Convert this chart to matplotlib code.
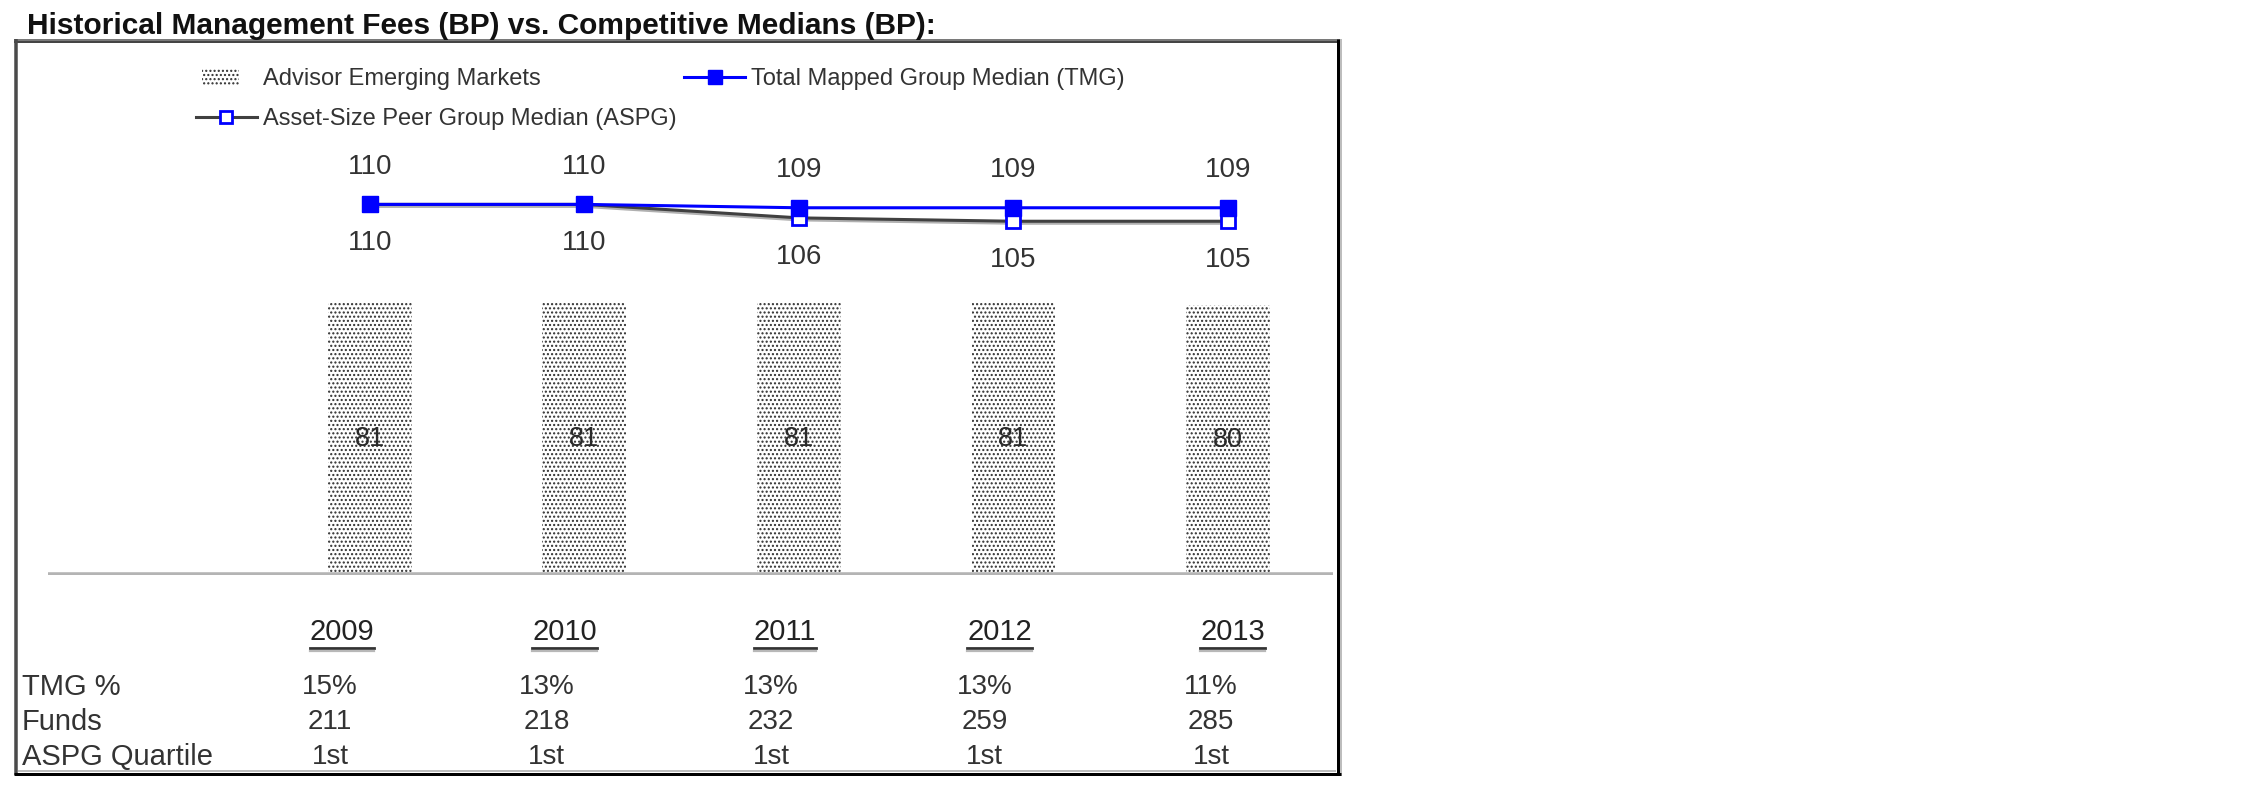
import numpy as np
import matplotlib
matplotlib.use('Agg')
import matplotlib.pyplot as plt
from matplotlib.lines import Line2D
from matplotlib.patches import Patch, Rectangle
from matplotlib.legend_handler import HandlerPatch
from matplotlib.transforms import blended_transform_factory, ScaledTranslation

years = ['2009', '2010', '2011', '2012', '2013']
advisor_fees = [81, 81, 81, 81, 80]
tmg_median = [110, 110, 109, 109, 109]
aspg_median = [110, 110, 106, 105, 105]
row_labels = ['TMG %', 'Funds', 'ASPG Quartile']
tmg_pct = ['15%', '13%', '13%', '13%', '11%']
funds = ['211', '218', '232', '259', '285']
aspg_quartile = ['1st', '1st', '1st', '1st', '1st']

W, H = 2250, 796
plt.rcParams['font.family'] = ['Liberation Sans', 'DejaVu Sans']
plt.rcParams['hatch.linewidth'] = 1.0

text_col = '#333333'
dots = '....'

def fx(px):
    return px / W

def fy(py):
    return 1 - py / H

fig = plt.figure(figsize=(W / 100, H / 100), dpi=100)
fig.patch.set_facecolor('white')

# plot area: baseline at y=575px, top at the frame
ax = fig.add_axes([fx(48), fy(575), fx(1333) - fx(48), fy(41) - fy(575)])
ax.axis('off')
x = np.arange(len(years))
ax.set_xlim(-1.5, 4.49)
ax.set_ylim(0, 158.5)

ax.bar(x, advisor_fees, width=0.39, color='white', edgecolor='#2e2e2e',
       linewidth=0, hatch=dots, zorder=1)
ax.axhline(0, color='#b4b4b4', lw=4, zorder=2)

for xi, v in zip(x, advisor_fees):
    ax.text(xi, v / 2, str(v), ha='center', va='center', fontsize=19.5, color='#2a2a2a', zorder=5)

shadow = ax.transData + ScaledTranslation(0, -2 / 100, fig.dpi_scale_trans)
ax.plot(x, aspg_median, color='#b0b0b0', lw=2.2, transform=shadow, zorder=2.5)
ax.plot(x, aspg_median, color='#404040', lw=2.2, marker='s', ms=10, mfc='white',
        mec='#0000ff', mew=2, zorder=3)
ax.plot(x, tmg_median, color='#0000ff', lw=2.2, marker='s', ms=12, mfc='#0000ff',
        mec='#0000ff', zorder=4)

for xi, v in zip(x, tmg_median):
    ax.annotate(str(v), (xi, v), xytext=(0, 27), textcoords='offset points',
                ha='center', va='center', fontsize=20, color=text_col)
for xi, v in zip(x, aspg_median):
    ax.annotate(str(v), (xi, v), xytext=(0, -28), textcoords='offset points',
                ha='center', va='center', fontsize=20, color=text_col)

# years (underlined) and table under the plot
tr = blended_transform_factory(ax.transData, fig.transFigure)
year_dx = [-0.13, -0.093, -0.065, -0.065, 0.023]
year_texts = []
for xi, yr, d in zip(x, years, year_dx):
    t = ax.text(xi + d, fy(632), yr, transform=tr, ha='center', va='center',
                fontsize=21, color='#222222')
    year_texts.append(t)

table_dx = [-0.186, -0.177, -0.13, -0.135, -0.079]
row_y = [687, 722, 757]
for row, yy in zip([tmg_pct, funds, aspg_quartile], row_y):
    for xi, val, d in zip(x, row, table_dx):
        ax.text(xi + d, fy(yy), val, transform=tr, ha='center', va='center',
                fontsize=20, color=text_col)
for lab, yy in zip(row_labels, row_y):
    fig.text(fx(22), fy(yy), lab, ha='left', va='center', fontsize=21, color=text_col)

# legend
def small_patch(legend, orig_handle, xdescent, ydescent, width, height, fontsize):
    return Rectangle((-xdescent + 0.1 * width, -ydescent), 0.6 * width, height)

h_adv = Patch(facecolor='white', edgecolor='#2e2e2e', linewidth=0, hatch=dots)
h_aspg = Line2D([], [], color='#404040', lw=2.2, marker='s', ms=9, mfc='white',
                mec='#0000ff', mew=2)
h_tmg = Line2D([], [], color='#0000ff', lw=2.2, marker='s', ms=10, mfc='#0000ff',
               mec='#0000ff')
fig.legend([h_adv, h_aspg, h_tmg],
           ['Advisor Emerging Markets', 'Asset-Size Peer Group Median (ASPG)',
            'Total Mapped Group Median (TMG)'],
           handler_map={Patch: HandlerPatch(patch_func=small_patch)},
           ncol=2, loc='upper left', bbox_to_anchor=(fx(196), fy(68)),
           frameon=False, borderpad=0, borderaxespad=0, fontsize=17,
           handlelength=2.58, handletextpad=0.25, columnspacing=0.34,
           labelspacing=0.76, labelcolor=text_col)

# title
fig.text(fx(27), fy(34), 'Historical Management Fees (BP) vs. Competitive Medians (BP):',
         ha='left', va='baseline', fontsize=21.5, fontweight='bold', color='#111111')

# frame around the chart
def fline(xs, ys, color, lw_px):
    fig.add_artist(Line2D([fx(v) for v in xs], [fy(v) for v in ys],
                          transform=fig.transFigure, color=color, lw=lw_px * 0.72,
                          solid_capstyle='butt'))

fline([14, 1340], [39.5, 39.5], '#7a7a7a', 2)
fline([14, 1340], [41.5, 41.5], '#454545', 2)
fline([16, 16], [39, 775], '#4a4a4a', 3.5)
fline([1337.5, 1337.5], [39, 775], '#000000', 3)
fline([1340.5, 1340.5], [39, 776], '#bdbdbd', 2)
fline([14, 1341], [773.5, 773.5], '#000000', 3)
fline([18, 1336], [770.5, 770.5], '#bdbdbd', 2)

fig.canvas.draw()
renderer = fig.canvas.get_renderer()
for t in year_texts:
    bb = t.get_window_extent(renderer)
    yline = bb.y0 - 2
    fig.add_artist(Line2D([bb.x0 / W, bb.x1 / W], [yline / H, yline / H],
                          transform=fig.transFigure, color='#333333', lw=2.0))
    fig.add_artist(Line2D([bb.x0 / W, bb.x1 / W], [(yline - 2.5) / H, (yline - 2.5) / H],
                          transform=fig.transFigure, color='#b8b8b8', lw=1.6))

fig.savefig('out.png', dpi=100, facecolor='white')
